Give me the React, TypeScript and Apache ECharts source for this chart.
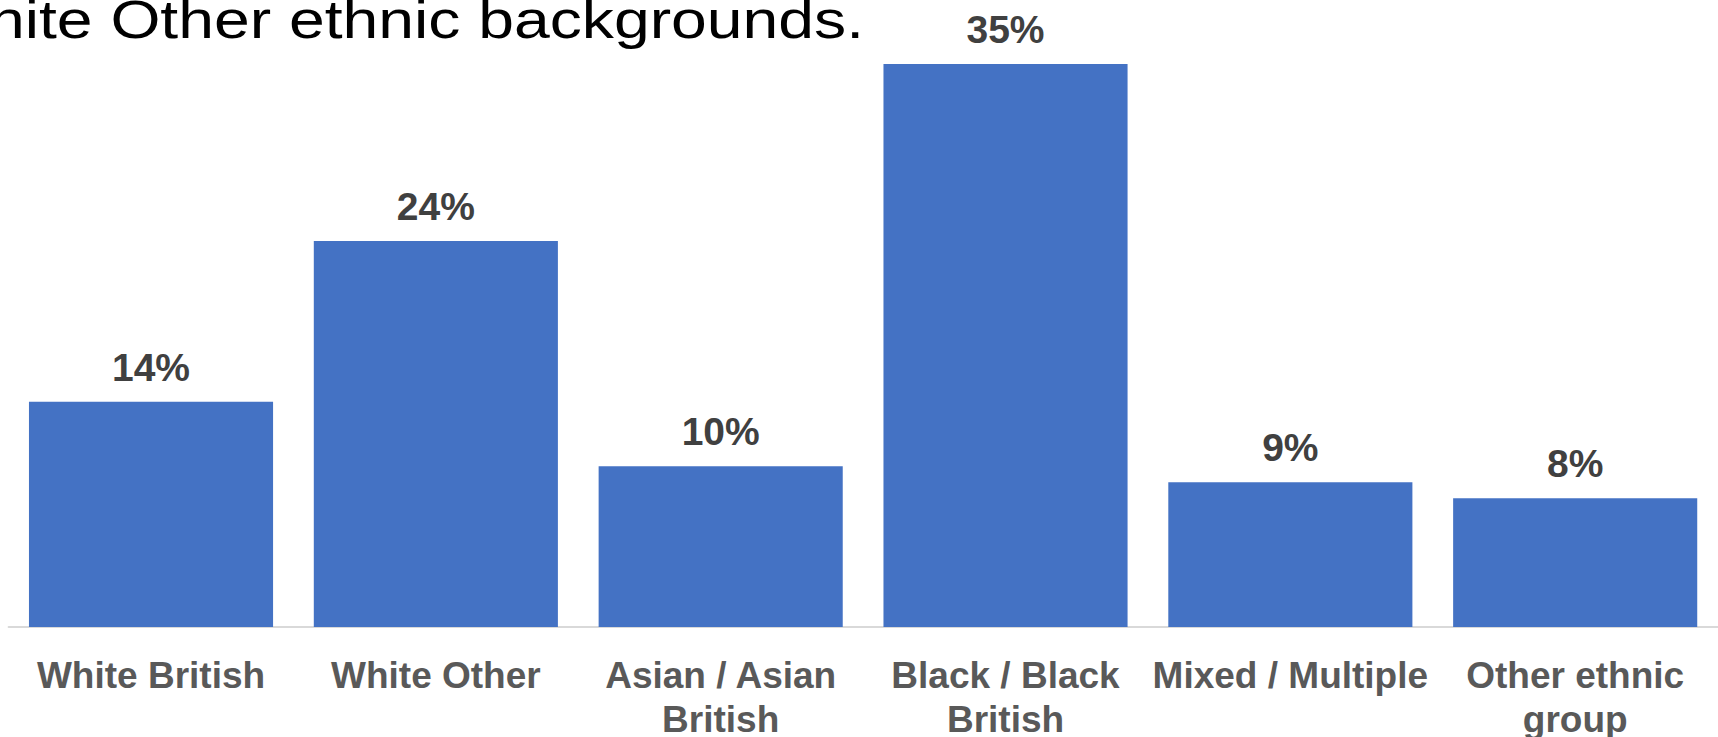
import React, { useEffect, useRef } from "react";
import * as echarts from "echarts";

const categories = [
  "White British",
  "White Other",
  "Asian / Asian\nBritish",
  "Black / Black\nBritish",
  "Mixed / Multiple",
  "Other ethnic\ngroup",
];
const values = [14, 24, 10, 35, 9, 8];
const titleText = "hite Other ethnic backgrounds.";

const FONT = "'Liberation Sans', Arial, Helvetica, sans-serif";

export default function App() {
  const ref = useRef<HTMLDivElement>(null);
  useEffect(() => {
    if (!ref.current) return;
    const chart = echarts.init(ref.current, undefined, { renderer: "svg" });
    chart.setOption({
      animation: false,
      backgroundColor: "#ffffff",
      grid: {
        left: 8.6,
        right: 0.4,
        top: 64,
        bottom: 110,
        containLabel: false,
        outerBoundsMode: "none",
      },
      xAxis: {
        type: "category",
        data: categories,
        axisLine: { show: true, lineStyle: { color: "#d9d9d9", width: 2 } },
        axisTick: { show: false },
        axisLabel: {
          interval: 0,
          margin: 26,
          color: "#595959",
          fontSize: 37,
          fontWeight: "bold",
          fontFamily: FONT,
          lineHeight: 44,
        },
      },
      yAxis: {
        type: "value",
        min: 0,
        max: 35,
        show: false,
        splitLine: { show: false },
      },
      series: [
        {
          type: "bar",
          data: values,
          barCategoryGap: "14.3%",
          itemStyle: { color: "#4472C4" },
          label: {
            show: true,
            position: "top",
            distance: 15,
            formatter: "{c}%",
            color: "#404040",
            fontSize: 39,
            fontWeight: "bold",
            fontFamily: FONT,
          },
        },
      ],
      graphic: [
        {
          type: "text",
          x: 864,
          y: 46,
          scaleX: 1.19,
          scaleY: 1,
          style: {
            text: titleText,
            fill: "#000000",
            font: `54px ${FONT}`,
            align: "right",
            verticalAlign: "bottom",
          },
        },
      ],
    });
    return () => chart.dispose();
  }, []);
  return (
    <div
      ref={ref}
      style={{ position: "fixed", left: 0, top: 0, width: 1718, height: 737 }}
    />
  );
}
